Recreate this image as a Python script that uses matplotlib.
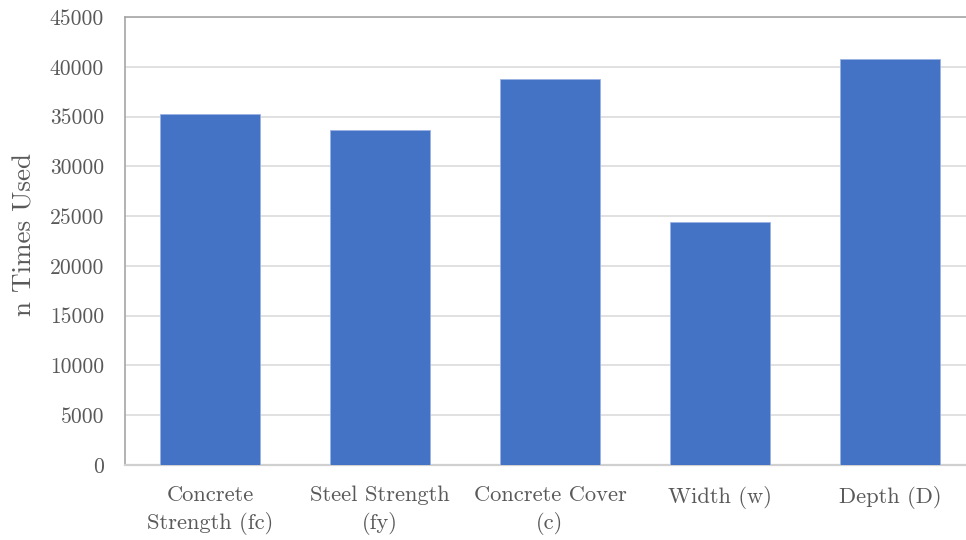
import matplotlib
matplotlib.use("Agg")
import matplotlib.pyplot as plt

categories = ["Concrete\nStrength (fc)", "Steel Strength\n(fy)", "Concrete Cover\n(c)", "Width (w)", "Depth (D)"]
values = [35300, 33600, 38800, 24400, 40750]
yticks = [0, 5000, 10000, 15000, 20000, 25000, 30000, 35000, 40000, 45000]

plt.rcParams['font.family'] = ['cmr10', 'DejaVu Serif']
plt.rcParams['axes.formatter.use_mathtext'] = True

fig = plt.figure(figsize=(9.66, 5.40), dpi=100)
ax = fig.add_axes([125/966, 1-465/540, 1-125/966, (465-17)/540])

x = list(range(len(categories)))
ax.bar(x, values, width=0.59, color='#4472C4', edgecolor='#9bb3e3', linewidth=0.6, zorder=3)

ax.set_xlim(-0.5, 4 + (966-890)/170)
ax.set_ylim(0, 45000)
ax.set_yticks(yticks)
ax.set_yticklabels([str(v) for v in yticks])
ax.set_xticks(x)
ax.set_xticklabels(categories, linespacing=1.4)

txtc = '#595959'
ax.tick_params(axis='y', length=0, pad=15, labelsize=15.5, labelcolor=txtc)
ax.tick_params(axis='x', length=0, pad=15, labelsize=16.2, labelcolor=txtc)

ax.grid(axis='y', color='#d9d9d9', linewidth=1.1, zorder=0)
ax.set_axisbelow(True)

ax.spines['right'].set_visible(False)
ax.spines['top'].set_color('#a6a6a6')
ax.spines['top'].set_linewidth(1.2)
ax.spines['left'].set_color('#a6a6a6')
ax.spines['left'].set_linewidth(1.2)
ax.spines['bottom'].set_color('#d0d0d0')
ax.spines['bottom'].set_linewidth(1.6)

ax.set_ylabel('n Times Used', fontsize=19.5, color=txtc)
ax.yaxis.set_label_coords((37-125)/841, 0.515)

fig.savefig('out.png', dpi=100)
